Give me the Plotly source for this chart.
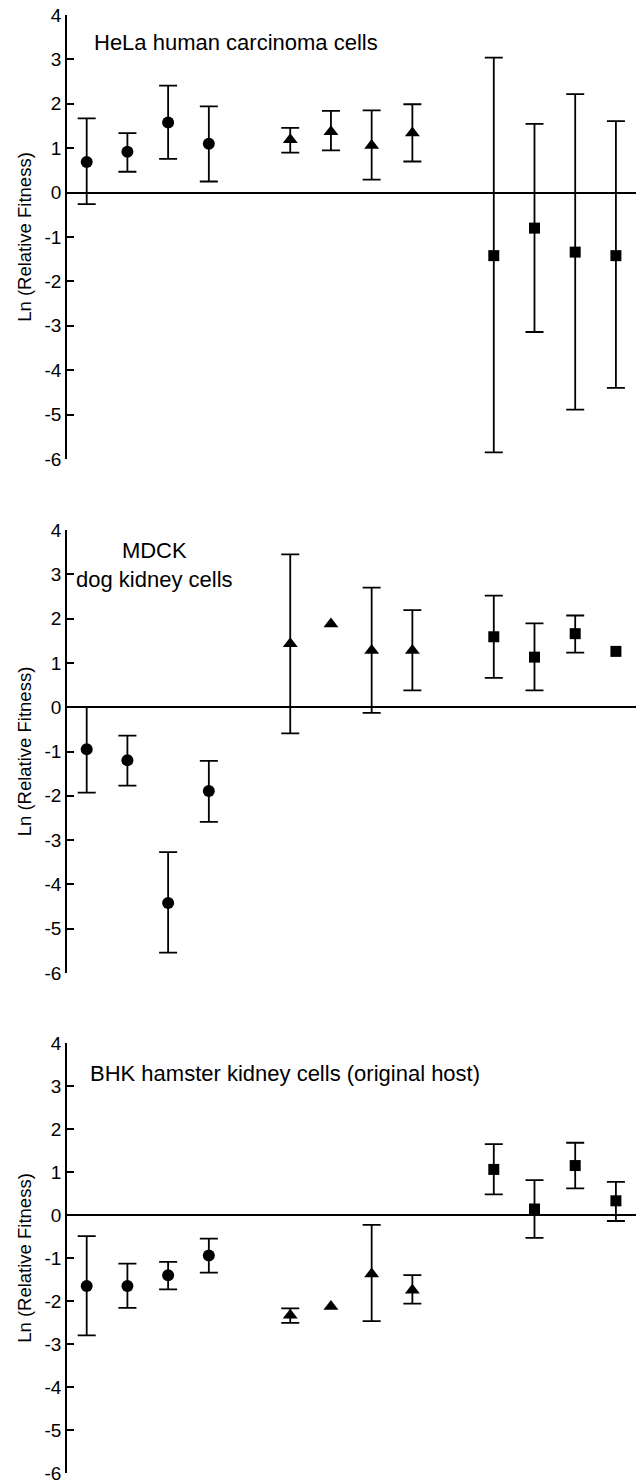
import plotly.graph_objects as go

# x positions (three groups of four isolates, gaps between groups)
positions = [1, 2, 3, 4, 6, 7, 8, 9, 11, 12, 13, 14]
symbols = ["circle"] * 4 + ["triangle-up"] * 4 + ["square"] * 4
y_ticks = [4, 3, 2, 1, 0, -1, -2, -3, -4, -5, -6]

# Panel 1: HeLa
hela_mean = [0.69, 0.92, 1.58, 1.10, 1.19, 1.37, 1.06, 1.34, -1.42, -0.80, -1.34, -1.42]
hela_upper = [1.67, 1.34, 2.41, 1.94, 1.46, 1.84, 1.85, 1.99, 3.04, 1.55, 2.22, 1.61]
hela_lower = [-0.26, 0.47, 0.76, 0.25, 0.90, 0.95, 0.29, 0.70, -5.85, -3.14, -4.89, -4.40]

# Panel 2: MDCK
mdck_mean = [-0.95, -1.20, -4.42, -1.89, 1.43, 1.88, 1.28, 1.28, 1.59, 1.13, 1.66, 1.26]
mdck_upper = [0.00, -0.64, -3.27, -1.21, 3.45, None, 2.70, 2.19, 2.52, 1.89, 2.07, None]
mdck_lower = [-1.93, -1.77, -5.54, -2.59, -0.59, None, -0.13, 0.38, 0.66, 0.38, 1.23, None]

# Panel 3: BHK
bhk_mean = [-1.65, -1.65, -1.40, -0.94, -2.33, -2.13, -1.37, -1.75, 1.06, 0.14, 1.15, 0.33]
bhk_upper = [-0.49, -1.13, -1.09, -0.55, -2.17, None, -0.23, -1.40, 1.65, 0.81, 1.68, 0.77]
bhk_lower = [-2.80, -2.16, -1.73, -1.34, -2.51, None, -2.47, -2.06, 0.48, -0.53, 0.62, -0.14]

panels = [
    (hela_mean, hela_upper, hela_lower, "HeLa human carcinoma cells"),
    (mdck_mean, mdck_upper, mdck_lower, "MDCK<br>dog kidney cells"),
    (bhk_mean, bhk_upper, bhk_lower, "BHK hamster kidney cells (original host)"),
]

# page has an 8px body margin; figure sized/offset to compensate
OFF = 8
W, H = 644 - OFF, 1481 - OFF
top_px, bot_px = 15, 1473          # page coordinates of plot area
span = bot_px - top_px
panel_px = [(15, 459), (530, 973), (1043, 1473)]
domains = [[(bot_px - b) / span, (bot_px - t) / span] for t, b in panel_px]

FONT = "Liberation Sans, Arial, Helvetica, sans-serif"
fig = go.Figure()

for i, (mean, up, lo, label) in enumerate(panels):
    xa = "x" if i == 0 else f"x{i+1}"
    ya = "y" if i == 0 else f"y{i+1}"
    # error bars only where an interval exists
    ex, ey, eplus, eminus = [], [], [], []
    for x, m, u, l in zip(positions, mean, up, lo):
        if u is not None and l is not None:
            ex.append(x)
            ey.append(m)
            eplus.append(u - m)
            eminus.append(m - l)
    fig.add_trace(go.Scatter(
        x=ex, y=ey, mode="markers", xaxis=xa, yaxis=ya,
        marker=dict(size=1, color="rgba(0,0,0,0)"),
        error_y=dict(type="data", symmetric=False, array=eplus, arrayminus=eminus,
                     color="black", thickness=1.8, width=9),
        showlegend=False, hoverinfo="skip",
    ))
    sizes = [12 if s == "circle" else (13 if s == "triangle-up" else 11) for s in symbols]
    fig.add_trace(go.Scatter(
        x=positions, y=mean, mode="markers", xaxis=xa, yaxis=ya,
        marker=dict(symbol=symbols, size=sizes, color="black", opacity=1,
                    line=dict(width=0)),
        showlegend=False,
    ))

layout = dict(
    width=W, height=H,
    margin=dict(l=67 - OFF, r=0, t=top_px - OFF, b=(1481 - bot_px), autoexpand=False),
    paper_bgcolor="white", plot_bgcolor="white",
    font=dict(family=FONT, color="black", size=19),
)
annots = []
ann_pos = [(0.043, 0.939, "left"), (0.1525, 0.92, "center"), (0.036, 0.930, "left")]
for i, (mean, up, lo, label) in enumerate(panels):
    sx = "" if i == 0 else str(i + 1)
    layout[f"xaxis{sx}"] = dict(
        domain=[0, 1], range=[0.516, 14.69], anchor=f"y{sx}",
        visible=False, showgrid=False, zeroline=False, automargin=False,
    )
    layout[f"yaxis{sx}"] = dict(
        domain=domains[i], range=[-6, 4], anchor=f"x{sx}", automargin=False,
        tickmode="array", tickvals=y_ticks, ticktext=[str(v) for v in y_ticks],
        ticks="inside", ticklen=7, tickwidth=1.5, tickcolor="black",
        ticklabeloverflow="allow",
        showline=True, linecolor="black", linewidth=1.8,
        showgrid=False, zeroline=True, zerolinecolor="black", zerolinewidth=2,
        tickfont=dict(size=19, family=FONT),
        title=dict(text="Ln (Relative Fitness)", font=dict(size=18.5, family=FONT), standoff=8),
    )
    ax, ay, anchor = ann_pos[i]
    annots.append(dict(
        text=label, xref=f"x{sx} domain", yref=f"y{sx} domain", x=ax, y=ay,
        xanchor=anchor, yanchor="middle", showarrow=False, align="center",
        font=dict(size=22, family=FONT, color="black"),
    ))
layout["annotations"] = annots
fig.update_layout(**layout)

fig.write_html("out.html")
